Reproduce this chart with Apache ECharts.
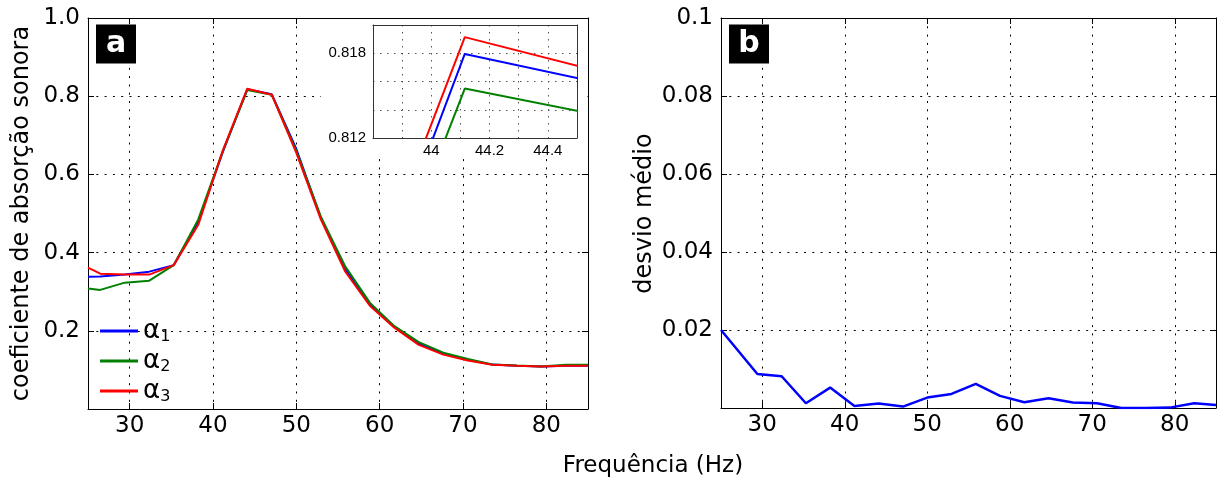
<!DOCTYPE html>
<html><head><meta charset="utf-8">
<script src="https://cdn.jsdelivr.net/npm/echarts@6/dist/echarts.min.js"></script>
<style>html,body{margin:0;padding:0;background:#fff}#c{width:1219px;height:482px}</style>
</head><body><div id="c"></div>
<script>
// ---- data ----
const freq   = [25, 26.47, 29.41, 32.35, 35.29, 38.23, 41.17, 44.115, 47.06, 50.0, 52.94, 55.88, 58.82, 61.76, 64.7, 67.64, 70.58, 73.52, 76.46, 79.4, 82.35, 85];
const alpha1 = [0.338, 0.339, 0.3437, 0.3513, 0.368, 0.479, 0.657, 0.81795, 0.8049, 0.665, 0.489, 0.358, 0.268, 0.210, 0.167, 0.141, 0.126, 0.1135, 0.1105, 0.109, 0.1105, 0.1105];
const alpha2 = [0.308, 0.3046, 0.3232, 0.3283, 0.368, 0.485, 0.659, 0.8155, 0.8035, 0.660, 0.492, 0.364, 0.272, 0.212, 0.171, 0.144, 0.128, 0.114, 0.111, 0.109, 0.113, 0.113];
const alpha3 = [0.3615, 0.3462, 0.3437, 0.3437, 0.368, 0.471, 0.661, 0.81914, 0.8037, 0.655, 0.485, 0.351, 0.264, 0.208, 0.164, 0.139, 0.124, 0.113, 0.1105, 0.1088, 0.1105, 0.1105];
const devFreq = [25, 29.41, 32.35, 35.29, 38.23, 41.17, 44.115, 47.06, 50.0, 52.94, 55.88, 58.82, 61.76, 64.7, 67.64, 70.58, 73.52, 76.46, 79.4, 82.35, 85];
const devMean = [0.0200, 0.00873, 0.00814, 0.00122, 0.00523, 0.00054, 0.00113, 0.00036, 0.00267, 0.0036, 0.00617, 0.0031, 0.00148, 0.0025, 0.00139, 0.00122, 0.0, 0.0, 0.0001, 0.0012, 0.0008];
const seriesNames = ['α1', 'α2', 'α3'];
const seriesColors = ['#0000ff', '#008000', '#ff0000'];
const xTickLabels = ['30', '40', '50', '60', '70', '80'];
const yTickLabelsA = ['0.2', '0.4', '0.6', '0.8', '1.0'];
const yTickLabelsB = ['0.02', '0.04', '0.06', '0.08', '0.1'];
const insetXLabels = ['44', '44.2', '44.4'];
const insetYLabels = ['0.812', '0.818'];

const FONT = 'DejaVu Sans';
const chart = echarts.init(document.getElementById('c'), null, {renderer: 'canvas'});
const pairs = (xs, ys) => xs.map((x, i) => [x, ys[i]]);
const alphas = [alpha1, alpha2, alpha3];

const dotted = {show: true, lineStyle: {color: '#000', width: 1, type: [2, 6.3]}};
function mainX(grid, pos, labels) {
  return {
    type: 'value', gridIndex: grid, position: pos, min: 25, max: 85, splitNumber: 6,
    axisLine: {show: true, onZero: false, lineStyle: {color: '#000', width: 1}},
    axisTick: {show: true, inside: true, length: 6, lineStyle: {color: '#000'}},
    axisLabel: {show: labels, color: '#000', fontSize: 23, fontFamily: FONT, margin: 6,
      formatter: v => { const s = String(Math.round(v)); return (Math.abs(v - Math.round(v)) < 1e-6 && xTickLabels.includes(s)) ? s : ''; }},
    splitLine: labels ? dotted : {show: false}
  };
}
function mainY(grid, pos, labels, max, interval, list) {
  return {
    type: 'value', gridIndex: grid, position: pos, min: 0, max: max, interval: interval,
    axisLine: {show: true, onZero: false, lineStyle: {color: '#000', width: 1}},
    axisTick: {show: true, inside: true, length: 6, lineStyle: {color: '#000'}},
    axisLabel: {show: labels, color: '#000', fontSize: 23, fontFamily: FONT, margin: 8,
      formatter: v => { const s = max === 1 ? v.toFixed(1) : String(+v.toFixed(2)); return list.includes(s) ? s : ''; }},
    splitLine: labels ? dotted : {show: false}
  };
}

const insetGrid = {show: true, lineStyle: {color: '#555', width: 1, type: [1.5, 5.5]}};
const option = {
  animation: false,
  backgroundColor: '#fff',
  grid: [
    {left: 88, top: 18, width: 500, height: 391},
    {left: 721, top: 18, width: 499, height: 390},
    {left: 373, top: 25, width: 204, height: 113, z: 11}
  ],
  xAxis: [
    mainX(0, 'bottom', true), mainX(0, 'top', false),
    mainX(1, 'bottom', true), mainX(1, 'top', false),
    {type: 'value', gridIndex: 2, min: 43.8, max: 44.5, interval: 0.1, z: 11,
     axisLine: {show: true, onZero: false, lineStyle: {color: '#333'}},
     axisTick: {show: false},
     axisLabel: {color: '#000', fontSize: 15, fontFamily: 'Liberation Sans', margin: 5,
       formatter: v => { const s = String(+v.toFixed(1)); return insetXLabels.includes(s) ? s : ''; }},
     splitLine: insetGrid},
    {type: 'value', gridIndex: 2, position: 'top', min: 43.8, max: 44.5, interval: 0.1, z: 11,
     axisLine: {show: true, onZero: false, lineStyle: {color: '#333'}}, axisTick: {show: false}, axisLabel: {show: false}, splitLine: {show: false}}
  ],
  yAxis: [
    mainY(0, 'left', true, 1, 0.2, yTickLabelsA), mainY(0, 'right', false, 1, 0.2, yTickLabelsA),
    mainY(1, 'left', true, 0.1, 0.02, yTickLabelsB), mainY(1, 'right', false, 0.1, 0.02, yTickLabelsB),
    {type: 'value', gridIndex: 2, min: 0.812, max: 0.82, interval: 0.002, z: 11,
     axisLine: {show: true, onZero: false, lineStyle: {color: '#333'}},
     axisTick: {show: false},
     axisLabel: {color: '#000', fontSize: 15, fontFamily: 'Liberation Sans', margin: 7,
       formatter: v => { const s = v.toFixed(3); return insetYLabels.includes(s) ? s : ''; }},
     splitLine: insetGrid},
    {type: 'value', gridIndex: 2, position: 'right', min: 0.812, max: 0.82, interval: 0.002, z: 11,
     axisLine: {show: true, onZero: false, lineStyle: {color: '#333'}}, axisTick: {show: false}, axisLabel: {show: false}, splitLine: {show: false}}
  ],
  legend: {
    data: seriesNames, orient: 'vertical', left: 95, top: 313, itemWidth: 38, itemHeight: 3, itemGap: 3.5,
    icon: 'rect', selectedMode: false,
    textStyle: {color: '#000', fontFamily: FONT,
      rich: {a: {fontSize: 26, fontFamily: FONT, lineHeight: 27, color: '#000'},
             s: {fontSize: 16, fontFamily: FONT, lineHeight: 27, verticalAlign: 'bottom', color: '#000'}}},
    formatter: n => '{a|' + n[0] + '}{s|' + n.slice(1) + '}'
  },
  series: [
    ...alphas.map((a, i) => ({type: 'line', name: seriesNames[i], xAxisIndex: 0, yAxisIndex: 0, data: pairs(freq, a),
      symbol: 'none', color: seriesColors[i], lineStyle: {color: seriesColors[i], width: 2}, z: 2})),
    {type: 'line', name: 'desvio', xAxisIndex: 2, yAxisIndex: 2, data: pairs(devFreq, devMean),
      symbol: 'none', color: '#0000ff', lineStyle: {color: '#0000ff', width: 2.5}},
    ...alphas.map((a, i) => ({type: 'line', name: seriesNames[i], xAxisIndex: 4, yAxisIndex: 4, data: pairs(freq, a),
      symbol: 'none', color: seriesColors[i], lineStyle: {color: seriesColors[i], width: 2}, z: 12, clip: true}))
  ],
  graphic: [
    {type: 'rect', shape: {x: 321, y: 19, width: 266.5, height: 139}, style: {fill: '#fff'}, z: 10},
    {type: 'rect', shape: {x: 96, y: 24.5, width: 40, height: 39}, style: {fill: '#000'}, z: 20},
    {type: 'text', x: 116, y: 44, z: 21, style: {text: 'a', fill: '#fff', font: 'bold 30px "DejaVu Sans"', align: 'center', verticalAlign: 'middle', textAlign: 'center', textVerticalAlign: 'middle'}},
    {type: 'rect', shape: {x: 729, y: 24.5, width: 40, height: 39}, style: {fill: '#000'}, z: 20},
    {type: 'text', x: 749, y: 44, z: 21, style: {text: 'b', fill: '#fff', font: 'bold 30px "DejaVu Sans"', align: 'center', verticalAlign: 'middle', textAlign: 'center', textVerticalAlign: 'middle'}},
    {type: 'text', x: 22, y: 213.5, rotation: Math.PI / 2, z: 21, style: {text: 'coeficiente de absorção sonora', fill: '#000', font: '24px "DejaVu Sans"', align: 'center', verticalAlign: 'middle', textAlign: 'center', textVerticalAlign: 'middle'}},
    {type: 'text', x: 645, y: 213.5, rotation: Math.PI / 2, z: 21, style: {text: 'desvio médio', fill: '#000', font: '24px "DejaVu Sans"', align: 'center', verticalAlign: 'middle', textAlign: 'center', textVerticalAlign: 'middle'}},
    {type: 'text', x: 653, y: 466, z: 21, style: {text: 'Frequência (Hz)', fill: '#000', font: '23px "DejaVu Sans"', align: 'center', verticalAlign: 'middle', textAlign: 'center', textVerticalAlign: 'middle'}}
  ]
};
chart.setOption(option);
</script></body></html>
